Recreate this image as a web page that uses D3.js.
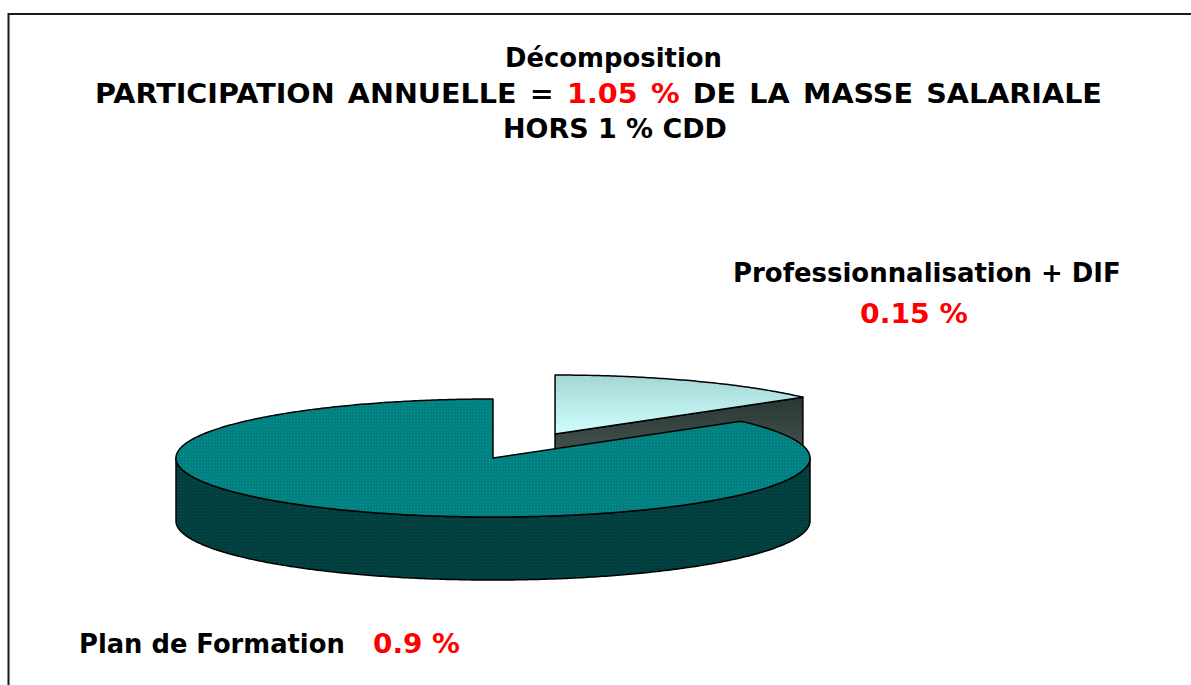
<!DOCTYPE html>
<html lang="fr">
<head>
  <meta charset="UTF-8" />
  <title>Décomposition participation annuelle</title>
  <script src="https://d3js.org/d3.v7.min.js"></script>
  <style>
    body { margin: 0; background: #fff; }
    svg { display: block; }
    text { font-family: 'DejaVu Sans', Verdana, sans-serif; font-weight: bold; }
  </style>
</head>
<body>
  <svg width="1191" height="685"></svg>
  <script>
    // data
    const categories = ["Professionnalisation + DIF", "Plan de Formation"];
    const values = [0.15, 0.9];
    const valueLabels = ["0.15 %", "0.9 %"];
    const exploded = [true, false];
    const titleLine1 = "Décomposition";
    const titleLine2 = ["PARTICIPATION ANNUELLE = ", "1.05 %", " DE LA MASSE SALARIALE"];
    const titleLine3 = "HORS 1 % CDD";

    const svg = d3.select("svg");
    const W = 1191, H = 685;

    // frame
    svg.append("rect")
      .attr("x", 8.5).attr("y", 14)
      .attr("width", W).attr("height", H)
      .attr("fill", "#fff").attr("stroke", "#1a1a1a").attr("stroke-width", 2);

    const defs = svg.append("defs");
    const g1 = defs.append("linearGradient").attr("id", "topLight")
      .attr("x1", 0).attr("y1", 0).attr("x2", 0).attr("y2", 1);
    g1.append("stop").attr("offset", "0%").attr("stop-color", "#a5d6d6");
    g1.append("stop").attr("offset", "100%").attr("stop-color", "#cefefe");
    const g2 = defs.append("linearGradient").attr("id", "sideLight")
      .attr("x1", 0).attr("y1", 0).attr("x2", 0).attr("y2", 1);
    g2.append("stop").attr("offset", "0%").attr("stop-color", "#2a3634");
    g2.append("stop").attr("offset", "100%").attr("stop-color", "#56695f");
    const pat = defs.append("pattern").attr("id", "dotsTop")
      .attr("width", 3).attr("height", 3).attr("patternUnits", "userSpaceOnUse");
    pat.append("rect").attr("width", 3).attr("height", 3).attr("fill", "#008080");
    pat.append("rect").attr("width", 1).attr("height", 1).attr("fill", "#1a9090");
    const pat2 = defs.append("pattern").attr("id", "dotsSide")
      .attr("width", 3).attr("height", 3).attr("patternUnits", "userSpaceOnUse");
    pat2.append("rect").attr("width", 3).attr("height", 3).attr("fill", "#013f3f");
    pat2.append("rect").attr("width", 1).attr("height", 1).attr("fill", "#0c4c4c");

    const topFill = d3.scaleOrdinal().domain(categories).range(["url(#topLight)", "url(#dotsTop)"]);
    const sideFill = d3.scaleOrdinal().domain(categories).range(["url(#sideLight)", "url(#dotsSide)"]);

    // 3d pie layout
    const cx = 493, cy = 458, rx = 317, ry = 59, depth = 63, explode = 143;
    const pie = d3.pie().sort(null).value(d => d.value);
    const arcs = pie(categories.map((c, i) => ({ cat: c, value: values[i], label: valueLabels[i], ex: exploded[i] })));

    function pt(a, ox, oy, dz) {
      return [cx + ox + rx * Math.sin(a), cy + oy - ry * Math.cos(a) + (dz || 0)];
    }
    function arcPts(a0, a1, ox, oy, dz) {
      const n = Math.max(2, Math.ceil(Math.abs(a1 - a0) / 0.01));
      return d3.range(n + 1).map(k => pt(a0 + (a1 - a0) * k / n, ox, oy, dz));
    }
    const line = d3.line();

    arcs.forEach(d => {
      const mid = (d.startAngle + d.endAngle) / 2;
      d.ox = d.data.ex ? explode * Math.sin(mid) : 0;
      d.oy = d.data.ex ? -explode * Math.cos(mid) * ry / rx : 0;
    });

    // back slices first
    const order = arcs.slice().sort((a, b) => a.oy - b.oy);

    order.forEach(d => {
      const g = svg.append("g").attr("class", "slice")
        .attr("stroke", "#000").attr("stroke-width", 1.5).attr("stroke-linejoin", "round");
      const c = [cx + d.ox, cy + d.oy];

      // outer side (front half only)
      const s0 = Math.max(d.startAngle, Math.PI / 2), s1 = Math.min(d.endAngle, 3 * Math.PI / 2);
      if (s1 > s0) {
        const top = arcPts(s0, s1, d.ox, d.oy, 0);
        const bot = arcPts(s0, s1, d.ox, d.oy, depth).reverse();
        g.append("path").attr("d", line(top.concat(bot)) + "Z")
          .attr("fill", sideFill(d.data.cat));
      }
      // cut faces that face the viewer
      [[d.endAngle, Math.sin(d.endAngle) > 0.001], [d.startAngle, Math.sin(d.startAngle) < -0.001]].forEach(([a, vis]) => {
        if (!vis) return;
        const p = pt(a, d.ox, d.oy, 0);
        const quad = [c, p, [p[0], p[1] + depth], [c[0], c[1] + depth]];
        g.append("path").attr("d", line(quad) + "Z")
          .attr("fill", sideFill(d.data.cat));
      });
      // top face
      const topPts = [c].concat(arcPts(d.startAngle, d.endAngle, d.ox, d.oy, 0));
      g.append("path").attr("d", line(topPts) + "Z")
        .attr("fill", topFill(d.data.cat));
    });

    // text helper: stretch a text horizontally to given extents
    function fitX(sel, x0, x1) {
      const w = sel.node().getComputedTextLength();
      const y = +sel.attr("y");
      sel.attr("x", 0).attr("y", 0)
        .attr("transform", `translate(${x0},${y}) scale(${(x1 - x0) / w},1)`);
    }
    const fs = 26;

    const t1 = svg.append("text").attr("y", 67).attr("font-size", fs).text(titleLine1);
    fitX(t1, 505, 722);

    const t2 = svg.append("text").attr("x", 0).attr("y", 0).attr("font-size", fs);
    t2.selectAll("tspan").data(titleLine2).enter().append("tspan")
      .attr("fill", (d, i) => i === 1 ? "#ff0000" : "#000")
      .style("white-space", "pre")
      .text(d => d);
    const w2 = t2.node().getComputedTextLength();
    const nSp = titleLine2.join("").split(" ").length - 1;
    const sx = 1.1;
    t2.attr("word-spacing", (1007 / sx - w2) / nSp)
      .attr("transform", `translate(95,103) scale(${sx},1)`);

    const t3 = svg.append("text").attr("y", 138).attr("font-size", fs).text(titleLine3);
    fitX(t3, 503, 727);

    // slice labels
    const lp = svg.append("text").attr("y", 282).attr("font-size", fs).text(categories[0]);
    fitX(lp, 733, 1121);
    const vp = svg.append("text").attr("y", 323).attr("font-size", fs).attr("fill", "#ff0000").text(valueLabels[0]);
    fitX(vp, 860, 968);
    const lf = svg.append("text").attr("y", 653).attr("font-size", fs).text(categories[1]);
    fitX(lf, 79, 345);
    const vf = svg.append("text").attr("y", 653).attr("font-size", fs).attr("fill", "#ff0000").text(valueLabels[1]);
    fitX(vf, 373, 460);
  </script>
</body>
</html>
